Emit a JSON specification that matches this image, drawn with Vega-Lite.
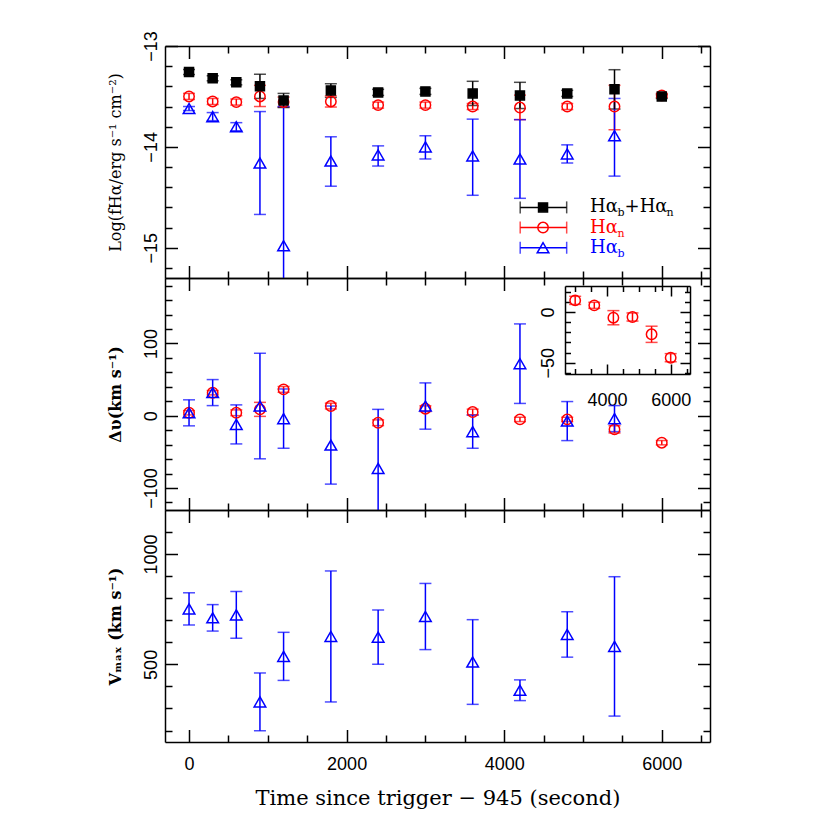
{
  "$schema": "https://vega.github.io/schema/vega-lite/v6.json",
  "background": "white",
  "padding": {"left": 106, "top": 30, "right": 5, "bottom": 5},
  "spacing": 0,
  "bounds": "flush",
  "datasets": {
    "flux": [
      {"series":"n","t":0,"v":-13.50,"lo":-13.53,"hi":-13.47},
      {"series":"n","t":300,"v":-13.55,"lo":-13.58,"hi":-13.52},
      {"series":"n","t":600,"v":-13.556,"lo":-13.586,"hi":-13.526},
      {"series":"n","t":900,"v":-13.50,"lo":-13.60,"hi":-13.39},
      {"series":"n","t":1200,"v":-13.556,"lo":-13.606,"hi":-13.506},
      {"series":"n","t":1800,"v":-13.55,"lo":-13.605,"hi":-13.495},
      {"series":"n","t":2400,"v":-13.586,"lo":-13.616,"hi":-13.556},
      {"series":"n","t":3000,"v":-13.586,"lo":-13.616,"hi":-13.556},
      {"series":"n","t":3600,"v":-13.60,"lo":-13.63,"hi":-13.57},
      {"series":"n","t":4200,"v":-13.61,"lo":-13.73,"hi":-13.487},
      {"series":"n","t":4800,"v":-13.60,"lo":-13.63,"hi":-13.57},
      {"series":"n","t":5400,"v":-13.60,"lo":-13.83,"hi":-13.39},
      {"series":"n","t":6000,"v":-13.49,"lo":-13.51,"hi":-13.47},
      {"series":"b","t":0,"v":-13.62,"lo":-13.64,"hi":-13.60},
      {"series":"b","t":300,"v":-13.70,"lo":-13.74,"hi":-13.66},
      {"series":"b","t":600,"v":-13.80,"lo":-13.84,"hi":-13.76},
      {"series":"b","t":900,"v":-14.16,"lo":-14.67,"hi":-13.65},
      {"series":"b","t":1200,"v":-14.98,"lo":-16.35,"hi":-13.60},
      {"series":"b","t":1800,"v":-14.14,"lo":-14.39,"hi":-13.90},
      {"series":"b","t":2400,"v":-14.08,"lo":-14.19,"hi":-13.99},
      {"series":"b","t":3000,"v":-14.00,"lo":-14.12,"hi":-13.89},
      {"series":"b","t":3600,"v":-14.09,"lo":-14.48,"hi":-13.725},
      {"series":"b","t":4200,"v":-14.12,"lo":-14.51,"hi":-13.73},
      {"series":"b","t":4800,"v":-14.07,"lo":-14.16,"hi":-13.98},
      {"series":"b","t":5400,"v":-13.89,"lo":-14.29,"hi":-13.52},
      {"series":"sum","t":0,"v":-13.258,"lo":-13.283,"hi":-13.233},
      {"series":"sum","t":300,"v":-13.32,"lo":-13.345,"hi":-13.295},
      {"series":"sum","t":600,"v":-13.36,"lo":-13.385,"hi":-13.335},
      {"series":"sum","t":900,"v":-13.40,"lo":-13.52,"hi":-13.28},
      {"series":"sum","t":1200,"v":-13.54,"lo":-13.61,"hi":-13.47},
      {"series":"sum","t":1800,"v":-13.44,"lo":-13.51,"hi":-13.374},
      {"series":"sum","t":2400,"v":-13.46,"lo":-13.49,"hi":-13.43},
      {"series":"sum","t":3000,"v":-13.45,"lo":-13.48,"hi":-13.42},
      {"series":"sum","t":3600,"v":-13.47,"lo":-13.59,"hi":-13.35},
      {"series":"sum","t":4200,"v":-13.49,"lo":-13.62,"hi":-13.36},
      {"series":"sum","t":4800,"v":-13.47,"lo":-13.50,"hi":-13.44},
      {"series":"sum","t":5400,"v":-13.43,"lo":-13.625,"hi":-13.235},
      {"series":"sum","t":6000,"v":-13.50,"lo":-13.52,"hi":-13.48}
    ],
    "legend": [
      {"series":"sum","ly":-14.6,"lx":4493,"lxlo":4203,"lxhi":4793,"tx":5090,"lab":"Hα","sub":"b","lab2":"+Hα","sub2":"n"},
      {"series":"n","ly":-14.8,"lx":4493,"lxlo":4203,"lxhi":4793,"tx":5090,"lab":"Hα","sub":"n"},
      {"series":"b","ly":-15.0,"lx":4493,"lxlo":4203,"lxhi":4793,"tx":5090,"lab":"Hα","sub":"b"}
    ],
    "dv": [
      {"series":"n","t":0,"v":4.1,"lo":1.1,"hi":7.1},
      {"series":"n","t":300,"v":31.8,"lo":28.8,"hi":34.8},
      {"series":"n","t":600,"v":4.1,"lo":0.1,"hi":8.1},
      {"series":"n","t":900,"v":8.8,"lo":-0.9,"hi":18.5},
      {"series":"n","t":1200,"v":36.4,"lo":32.4,"hi":40.4},
      {"series":"n","t":1800,"v":13.4,"lo":9.4,"hi":17.4},
      {"series":"n","t":2400,"v":-9.7,"lo":-13.7,"hi":-5.7},
      {"series":"n","t":3000,"v":9.7,"lo":5.7,"hi":13.7},
      {"series":"n","t":3600,"v":5.1,"lo":1.1,"hi":9.1},
      {"series":"n","t":4200,"v":-5.1,"lo":-8.1,"hi":-2.1},
      {"series":"n","t":4800,"v":-5.1,"lo":-8.1,"hi":-2.1},
      {"series":"n","t":5400,"v":-18.9,"lo":-23.9,"hi":-13.9},
      {"series":"n","t":6000,"v":-37.3,"lo":-40.3,"hi":-34.3},
      {"series":"b","t":0,"v":4,"lo":-14,"hi":22},
      {"series":"b","t":300,"v":32,"lo":14,"hi":50},
      {"series":"b","t":600,"v":-12,"lo":-39,"hi":15},
      {"series":"b","t":900,"v":13.4,"lo":-59.6,"hi":86.4},
      {"series":"b","t":1200,"v":-4,"lo":-45,"hi":37},
      {"series":"b","t":1800,"v":-40.6,"lo":-94.6,"hi":13.4},
      {"series":"b","t":2400,"v":-72.8,"lo":-154,"hi":8.8},
      {"series":"b","t":3000,"v":13.4,"lo":-18.6,"hi":45.4},
      {"series":"b","t":3600,"v":-22,"lo":-45,"hi":1},
      {"series":"b","t":4200,"v":72,"lo":17,"hi":127},
      {"series":"b","t":4800,"v":-7.4,"lo":-34.4,"hi":19.6},
      {"series":"b","t":5400,"v":-4,"lo":-22,"hi":14}
    ],
    "inset": [
      {"series":"n","t":3000,"v":11.5,"lo":7.5,"hi":15.5},
      {"series":"n","t":3600,"v":6.6,"lo":3.6,"hi":9.6},
      {"series":"n","t":4200,"v":-5.6,"lo":-12.6,"hi":1.4},
      {"series":"n","t":4800,"v":-4.9,"lo":-8.9,"hi":-0.9},
      {"series":"n","t":5400,"v":-22,"lo":-30,"hi":-14},
      {"series":"n","t":6000,"v":-45.1,"lo":-49.1,"hi":-41.1}
    ],
    "vmax": [
      {"series":"b","t":0,"v":751.6,"lo":678.6,"hi":824.6},
      {"series":"b","t":300,"v":711,"lo":651,"hi":771},
      {"series":"b","t":600,"v":724.5,"lo":618.5,"hi":830.5},
      {"series":"b","t":900,"v":330,"lo":199,"hi":461},
      {"series":"b","t":1200,"v":536.3,"lo":427.3,"hi":645.3},
      {"series":"b","t":1800,"v":626.6,"lo":329.6,"hi":923.6},
      {"series":"b","t":2400,"v":623.6,"lo":500.6,"hi":746.6},
      {"series":"b","t":3000,"v":717,"lo":567,"hi":867},
      {"series":"b","t":3600,"v":510.7,"lo":318.7,"hi":702.7},
      {"series":"b","t":4200,"v":382.7,"lo":335.7,"hi":429.7},
      {"series":"b","t":4800,"v":635.7,"lo":532.7,"hi":738.7},
      {"series":"b","t":5400,"v":581.5,"lo":265.5,"hi":897.5}
    ]
  },
  "vconcat": [
    {
      "width": 545, "height": 232,
      "resolve": {"axis": {"x": "independent", "y": "independent"}},
      "layer": [
        {
          "data": {"name": "flux"},
          "mark": {"type": "errorbar", "ticks": true, "size": 12, "thickness": 1.5, "clip": true},
          "encoding": {
            "x": {"field": "t", "type": "quantitative", "scale": {"domain": [-305, 6612], "nice": false, "zero": false}, "axis": null},
            "y": {"field": "lo", "type": "quantitative", "scale": {"domain": [-15.3, -13], "nice": false, "zero": false}, "axis": null},
            "y2": {"field": "hi"},
            "color": {"field": "series", "type": "nominal", "scale": {"domain": ["sum","n","b"], "range": ["#000000","#ff0000","#0000ff"]}, "legend": null}
          }
        },
        {
          "data": {"name": "flux"},
          "mark": {"type": "point", "strokeWidth": 1.5, "opacity": 1, "filled": false},
          "encoding": {
            "x": {"field": "t", "type": "quantitative", "scale": {"domain": [-305, 6612], "nice": false, "zero": false},
              "axis": {"orient": "bottom", "values": [0,500,1000,1500,2000,2500,3000,3500,4000,4500,5000,5500,6000,6500], "labels": false, "title": null,
                "tickSize": {"condition": {"test": "datum.value % 2000 === 0", "value": -12.5}, "value": -7}}},
            "y": {"field": "v", "type": "quantitative", "scale": {"domain": [-15.3, -13], "nice": false, "zero": false},
              "axis": {"orient": "left", "values": [-13,-13.2,-13.4,-13.6,-13.8,-14,-14.2,-14.4,-14.6,-14.8,-15,-15.2],
                "labelExpr": "datum.value === -13 ? '−13' : (datum.value === -14 ? '−14' : (datum.value === -15 ? '−15' : ''))",
                "labelAngle": -90, "labelAlign": "center", "labelBaseline": "bottom", "labelPadding": 17,
                "tickSize": {"condition": {"test": "datum.value === -13 || datum.value === -14 || datum.value === -15", "value": -12.5}, "value": -7},
                "title": "Log(fHα/erg s⁻¹ cm⁻²)", "titleFontSize": 16, "titleFontWeight": "normal", "titlePadding": 14}},
            "stroke": {"field": "series", "type": "nominal", "scale": {"domain": ["sum","n","b"], "range": ["#000000","#ff0000","#0000ff"]}, "legend": null},
            "fill": {"field": "series", "type": "nominal", "scale": {"domain": ["sum","n","b"], "range": ["#000000","transparent","transparent"]}, "legend": null},
            "shape": {"field": "series", "type": "nominal", "scale": {"domain": ["sum","n","b"], "range": ["square","circle","triangle-up"]}, "legend": null},
            "size": {"field": "series", "type": "nominal", "scale": {"domain": ["sum","n","b"], "range": [81,135,121]}, "legend": null}
          }
        },
        {
          "data": {"name": "legend"},
          "mark": {"type": "errorbar", "ticks": true, "size": 12, "thickness": 1.5},
          "encoding": {
            "x": {"field": "lxlo", "type": "quantitative", "scale": {"domain": [-305, 6612], "nice": false, "zero": false}, "axis": null},
            "x2": {"field": "lxhi"},
            "y": {"field": "ly", "type": "quantitative", "scale": {"domain": [-15.3, -13], "nice": false, "zero": false}, "axis": null},
            "color": {"field": "series", "type": "nominal", "scale": {"domain": ["sum","n","b"], "range": ["#000000","#ff0000","#0000ff"]}, "legend": null}
          }
        },
        {
          "data": {"name": "legend"},
          "mark": {"type": "point", "strokeWidth": 1.5, "opacity": 1, "filled": false},
          "encoding": {
            "x": {"field": "lx", "type": "quantitative", "scale": {"domain": [-305, 6612], "nice": false, "zero": false},
              "axis": {"orient": "top", "values": [0,500,1000,1500,2000,2500,3000,3500,4000,4500,5000,5500,6000,6500], "labels": false, "title": null,
                "tickSize": {"condition": {"test": "datum.value % 2000 === 0", "value": -12.5}, "value": -7}}},
            "y": {"field": "ly", "type": "quantitative", "scale": {"domain": [-15.3, -13], "nice": false, "zero": false},
              "axis": {"orient": "right", "values": [-13,-13.2,-13.4,-13.6,-13.8,-14,-14.2,-14.4,-14.6,-14.8,-15,-15.2], "labels": false, "title": null,
                "tickSize": {"condition": {"test": "datum.value === -13 || datum.value === -14 || datum.value === -15", "value": -12.5}, "value": -7}}},
            "stroke": {"field": "series", "type": "nominal", "scale": {"domain": ["sum","n","b"], "range": ["#000000","#ff0000","#0000ff"]}, "legend": null},
            "fill": {"field": "series", "type": "nominal", "scale": {"domain": ["sum","n","b"], "range": ["#000000","transparent","transparent"]}, "legend": null},
            "shape": {"field": "series", "type": "nominal", "scale": {"domain": ["sum","n","b"], "range": ["square","circle","triangle-up"]}, "legend": null},
            "size": {"field": "series", "type": "nominal", "scale": {"domain": ["sum","n","b"], "range": [81,135,121]}, "legend": null}
          }
        },
        {
          "data": {"name": "legend"},
          "mark": {"type": "text", "font": "DejaVu Serif", "fontSize": 18, "align": "left", "baseline": "middle"},
          "encoding": {
            "x": {"field": "tx", "type": "quantitative", "scale": {"domain": [-305, 6612], "nice": false, "zero": false}, "axis": null},
            "y": {"field": "ly", "type": "quantitative", "scale": {"domain": [-15.3, -13], "nice": false, "zero": false}, "axis": null},
            "text": {"field": "lab"},
            "color": {"field": "series", "type": "nominal", "scale": {"domain": ["sum","n","b"], "range": ["#000000","#ff0000","#0000ff"]}, "legend": null}
          }
        },
        {
          "data": {"name": "legend"},
          "mark": {"type": "text", "font": "DejaVu Serif", "fontSize": 11, "align": "left", "baseline": "middle", "dx": 27.5, "dy": 6},
          "encoding": {
            "x": {"field": "tx", "type": "quantitative", "scale": {"domain": [-305, 6612], "nice": false, "zero": false}, "axis": null},
            "y": {"field": "ly", "type": "quantitative", "scale": {"domain": [-15.3, -13], "nice": false, "zero": false}, "axis": null},
            "text": {"field": "sub"},
            "color": {"field": "series", "type": "nominal", "scale": {"domain": ["sum","n","b"], "range": ["#000000","#ff0000","#0000ff"]}, "legend": null}
          }
        },
        {
          "data": {"name": "legend"},
          "transform": [{"filter": "datum.lab2 != null"}],
          "mark": {"type": "text", "font": "DejaVu Serif", "fontSize": 18, "align": "left", "baseline": "middle", "dx": 34.5},
          "encoding": {
            "x": {"field": "tx", "type": "quantitative", "scale": {"domain": [-305, 6612], "nice": false, "zero": false}, "axis": null},
            "y": {"field": "ly", "type": "quantitative", "scale": {"domain": [-15.3, -13], "nice": false, "zero": false}, "axis": null},
            "text": {"field": "lab2"},
            "color": {"field": "series", "type": "nominal", "scale": {"domain": ["sum","n","b"], "range": ["#000000","#ff0000","#0000ff"]}, "legend": null}
          }
        },
        {
          "data": {"name": "legend"},
          "transform": [{"filter": "datum.sub2 != null"}],
          "mark": {"type": "text", "font": "DejaVu Serif", "fontSize": 11, "align": "left", "baseline": "middle", "dx": 76.5, "dy": 6},
          "encoding": {
            "x": {"field": "tx", "type": "quantitative", "scale": {"domain": [-305, 6612], "nice": false, "zero": false}, "axis": null},
            "y": {"field": "ly", "type": "quantitative", "scale": {"domain": [-15.3, -13], "nice": false, "zero": false}, "axis": null},
            "text": {"field": "sub2"},
            "color": {"field": "series", "type": "nominal", "scale": {"domain": ["sum","n","b"], "range": ["#000000","#ff0000","#0000ff"]}, "legend": null}
          }
        }
      ]
    },
    {
      "width": 545, "height": 232,
      "resolve": {"scale": {"x": "independent", "y": "independent"}},
      "layer": [
        {
          "resolve": {"axis": {"x": "independent", "y": "independent"}},
          "layer": [
            {
              "data": {"name": "dv"},
              "mark": {"type": "errorbar", "ticks": true, "size": 12, "thickness": 1.5, "clip": true},
              "encoding": {
                "x": {"field": "t", "type": "quantitative", "scale": {"domain": [-305, 6612], "nice": false, "zero": false}, "axis": null},
                "y": {"field": "lo", "type": "quantitative", "scale": {"domain": [-130.4, 190.5], "nice": false, "zero": false}, "axis": null},
                "y2": {"field": "hi"},
                "color": {"field": "series", "type": "nominal", "scale": {"domain": ["sum","n","b"], "range": ["#000000","#ff0000","#0000ff"]}, "legend": null}
              }
            },
            {
              "data": {"name": "dv"},
              "transform": [{"filter": "datum.series === 'n'"}],
              "mark": {"type": "point", "strokeWidth": 1.5, "opacity": 1, "filled": false},
              "encoding": {
                "x": {"field": "t", "type": "quantitative", "scale": {"domain": [-305, 6612], "nice": false, "zero": false},
                  "axis": {"orient": "bottom", "values": [0,500,1000,1500,2000,2500,3000,3500,4000,4500,5000,5500,6000,6500], "labels": false, "title": null,
                    "tickSize": {"condition": {"test": "datum.value % 2000 === 0", "value": -12.5}, "value": -7}}},
                "y": {"field": "v", "type": "quantitative", "scale": {"domain": [-130.4, 190.5], "nice": false, "zero": false},
                  "axis": {"orient": "left", "values": [-120,-100,-80,-60,-40,-20,0,20,40,60,80,100,120,140,160,180], "format": "d",
                    "labelExpr": "datum.value % 100 === 0 ? datum.label : ''",
                    "labelAngle": -90, "labelAlign": "center", "labelBaseline": "bottom", "labelPadding": 17,
                    "tickSize": {"condition": {"test": "datum.value % 100 === 0", "value": -12.5}, "value": -7},
                    "title": "Δυ(km s⁻¹)", "titleFontSize": 16, "titleFontWeight": "bold", "titlePadding": 14}},
                "stroke": {"field": "series", "type": "nominal", "scale": {"domain": ["sum","n","b"], "range": ["#000000","#ff0000","#0000ff"]}, "legend": null},
                "fill": {"field": "series", "type": "nominal", "scale": {"domain": ["sum","n","b"], "range": ["#000000","transparent","transparent"]}, "legend": null},
                "shape": {"field": "series", "type": "nominal", "scale": {"domain": ["sum","n","b"], "range": ["square","circle","triangle-up"]}, "legend": null},
                "size": {"field": "series", "type": "nominal", "scale": {"domain": ["sum","n","b"], "range": [81,135,121]}, "legend": null}
              }
            },
            {
              "data": {"name": "dv"},
              "transform": [{"filter": "datum.series === 'b'"}],
              "mark": {"type": "point", "strokeWidth": 1.5, "opacity": 1, "filled": false},
              "encoding": {
                "x": {"field": "t", "type": "quantitative", "scale": {"domain": [-305, 6612], "nice": false, "zero": false},
                  "axis": {"orient": "top", "values": [0,500,1000,1500,2000,2500,3000,3500,4000,4500,5000,5500,6000,6500], "labels": false, "title": null,
                    "tickSize": {"condition": {"test": "datum.value % 2000 === 0", "value": -12.5}, "value": -7}}},
                "y": {"field": "v", "type": "quantitative", "scale": {"domain": [-130.4, 190.5], "nice": false, "zero": false},
                  "axis": {"orient": "right", "values": [-120,-100,-80,-60,-40,-20,0,20,40,60,80,100,120,140,160,180], "labels": false, "title": null,
                    "tickSize": {"condition": {"test": "datum.value % 100 === 0", "value": -12.5}, "value": -7}}},
                "stroke": {"field": "series", "type": "nominal", "scale": {"domain": ["sum","n","b"], "range": ["#000000","#ff0000","#0000ff"]}, "legend": null},
                "fill": {"field": "series", "type": "nominal", "scale": {"domain": ["sum","n","b"], "range": ["#000000","transparent","transparent"]}, "legend": null},
                "shape": {"field": "series", "type": "nominal", "scale": {"domain": ["sum","n","b"], "range": ["square","circle","triangle-up"]}, "legend": null},
                "size": {"field": "series", "type": "nominal", "scale": {"domain": ["sum","n","b"], "range": [81,135,121]}, "legend": null}
              }
            }
          ]
        },
        {
          "resolve": {"axis": {"x": "independent", "y": "independent"}},
          "layer": [
            {
              "data": {"name": "inset"},
              "mark": {"type": "errorbar", "ticks": true, "size": 12, "thickness": 1.5},
              "encoding": {
                "x": {"field": "t", "type": "quantitative", "scale": {"domain": [2680, 6607], "nice": false, "zero": false, "range": [400, 525]}, "axis": null},
                "y": {"field": "lo", "type": "quantitative", "scale": {"domain": [-61.2, 25.7], "nice": false, "zero": false, "range": [96, 8]}, "axis": null},
                "y2": {"field": "hi"},
                "color": {"field": "series", "type": "nominal", "scale": {"domain": ["sum","n","b"], "range": ["#000000","#ff0000","#0000ff"]}, "legend": null}
              }
            },
            {
              "data": {"name": "inset"},
              "mark": {"type": "point", "strokeWidth": 1.5, "opacity": 1, "filled": false},
              "encoding": {
                "x": {"field": "t", "type": "quantitative", "scale": {"domain": [2680, 6607], "nice": false, "zero": false, "range": [400, 525]},
                  "axis": {"orient": "bottom", "offset": -136, "values": [3000,3500,4000,4500,5000,5500,6000,6500], "format": "d",
                    "labelExpr": "datum.value % 2000 === 0 ? datum.label : ''", "labelPadding": 27.5, "title": null,
                    "tickSize": {"condition": {"test": "datum.value % 2000 === 0", "value": -10}, "value": -5.5}}},
                "y": {"field": "v", "type": "quantitative", "scale": {"domain": [-61.2, 25.7], "nice": false, "zero": false, "range": [96, 8]},
                  "axis": {"orient": "left", "offset": -400, "values": [-60,-50,-40,-30,-20,-10,0,10,20], "format": "d",
                    "labelExpr": "datum.value % 50 === 0 ? datum.label : ''",
                    "labelAngle": -90, "labelAlign": "center", "labelBaseline": "bottom", "labelPadding": 18, "title": null,
                    "tickSize": {"condition": {"test": "datum.value % 50 === 0", "value": -10}, "value": -5.5}}},
                "stroke": {"field": "series", "type": "nominal", "scale": {"domain": ["sum","n","b"], "range": ["#000000","#ff0000","#0000ff"]}, "legend": null},
                "fill": {"field": "series", "type": "nominal", "scale": {"domain": ["sum","n","b"], "range": ["#000000","transparent","transparent"]}, "legend": null},
                "shape": {"field": "series", "type": "nominal", "scale": {"domain": ["sum","n","b"], "range": ["square","circle","triangle-up"]}, "legend": null},
                "size": {"field": "series", "type": "nominal", "scale": {"domain": ["sum","n","b"], "range": [81,135,121]}, "legend": null}
              }
            },
            {
              "data": {"name": "inset"},
              "mark": {"type": "point", "opacity": 0},
              "encoding": {
                "x": {"field": "t", "type": "quantitative", "scale": {"domain": [2680, 6607], "nice": false, "zero": false, "range": [400, 525]},
                  "axis": {"orient": "top", "offset": -8, "values": [3000,3500,4000,4500,5000,5500,6000,6500], "labels": false, "title": null,
                    "tickSize": {"condition": {"test": "datum.value % 2000 === 0", "value": -10}, "value": -5.5}}},
                "y": {"field": "v", "type": "quantitative", "scale": {"domain": [-61.2, 25.7], "nice": false, "zero": false, "range": [96, 8]},
                  "axis": {"orient": "right", "offset": -20, "values": [-60,-50,-40,-30,-20,-10,0,10,20], "labels": false, "title": null,
                    "tickSize": {"condition": {"test": "datum.value % 50 === 0", "value": -10}, "value": -5.5}}}
              }
            }
          ]
        }
      ]
    },
    {
      "width": 545, "height": 232,
      "resolve": {"axis": {"x": "independent", "y": "independent"}},
      "layer": [
        {
          "data": {"name": "vmax"},
          "mark": {"type": "errorbar", "ticks": true, "size": 12, "thickness": 1.5, "clip": true},
          "encoding": {
            "x": {"field": "t", "type": "quantitative", "scale": {"domain": [-305, 6612], "nice": false, "zero": false}, "axis": null},
            "y": {"field": "lo", "type": "quantitative", "scale": {"domain": [148, 1200], "nice": false, "zero": false}, "axis": null},
            "y2": {"field": "hi"},
            "color": {"field": "series", "type": "nominal", "scale": {"domain": ["sum","n","b"], "range": ["#000000","#ff0000","#0000ff"]}, "legend": null}
          }
        },
        {
          "data": {"name": "vmax"},
          "mark": {"type": "point", "strokeWidth": 1.5, "opacity": 1, "filled": false},
          "encoding": {
            "x": {"field": "t", "type": "quantitative", "scale": {"domain": [-305, 6612], "nice": false, "zero": false},
              "axis": {"orient": "bottom", "values": [0,500,1000,1500,2000,2500,3000,3500,4000,4500,5000,5500,6000,6500], "format": "d",
                "labelExpr": "datum.value % 2000 === 0 ? datum.label : ''", "labelPadding": 26,
                "tickSize": {"condition": {"test": "datum.value % 2000 === 0", "value": -12.5}, "value": -7},
                "title": "Time since trigger − 945 (second)", "titleFontSize": 21, "titleFontWeight": "normal", "titlePadding": 8}},
            "y": {"field": "v", "type": "quantitative", "scale": {"domain": [148, 1200], "nice": false, "zero": false},
              "axis": {"orient": "left", "values": [200,300,400,500,600,700,800,900,1000,1100], "format": "d",
                "labelExpr": "datum.value % 500 === 0 ? datum.label : ''",
                "labelAngle": -90, "labelAlign": "center", "labelBaseline": "bottom", "labelPadding": 17,
                "tickSize": {"condition": {"test": "datum.value % 500 === 0", "value": -12.5}, "value": -7},
                "title": "Vₘₐₓ (km s⁻¹)", "titleFontSize": 16, "titleFontWeight": "bold", "titlePadding": 14}},
            "stroke": {"field": "series", "type": "nominal", "scale": {"domain": ["sum","n","b"], "range": ["#000000","#ff0000","#0000ff"]}, "legend": null},
            "fill": {"field": "series", "type": "nominal", "scale": {"domain": ["sum","n","b"], "range": ["#000000","transparent","transparent"]}, "legend": null},
            "shape": {"field": "series", "type": "nominal", "scale": {"domain": ["sum","n","b"], "range": ["square","circle","triangle-up"]}, "legend": null},
            "size": {"field": "series", "type": "nominal", "scale": {"domain": ["sum","n","b"], "range": [81,135,121]}, "legend": null}
          }
        },
        {
          "data": {"name": "vmax"},
          "mark": {"type": "point", "opacity": 0},
          "encoding": {
            "x": {"field": "t", "type": "quantitative", "scale": {"domain": [-305, 6612], "nice": false, "zero": false},
              "axis": {"orient": "top", "values": [0,500,1000,1500,2000,2500,3000,3500,4000,4500,5000,5500,6000,6500], "labels": false, "title": null,
                "tickSize": {"condition": {"test": "datum.value % 2000 === 0", "value": -12.5}, "value": -7}}},
            "y": {"field": "v", "type": "quantitative", "scale": {"domain": [148, 1200], "nice": false, "zero": false},
              "axis": {"orient": "right", "values": [200,300,400,500,600,700,800,900,1000,1100], "labels": false, "title": null,
                "tickSize": {"condition": {"test": "datum.value % 500 === 0", "value": -12.5}, "value": -7}}}
          }
        }
      ]
    }
  ],
  "config": {
    "view": {"stroke": null},
    "axis": {
      "domainColor": "black", "domainWidth": 1.5, "tickColor": "black", "tickWidth": 1.5, "grid": false,
      "labelFont": "Liberation Sans", "labelFontSize": 18, "labelColor": "black",
      "titleFont": "DejaVu Serif", "titleColor": "black", "labelOverlap": false, "labelFlush": false
    }
  }
}
